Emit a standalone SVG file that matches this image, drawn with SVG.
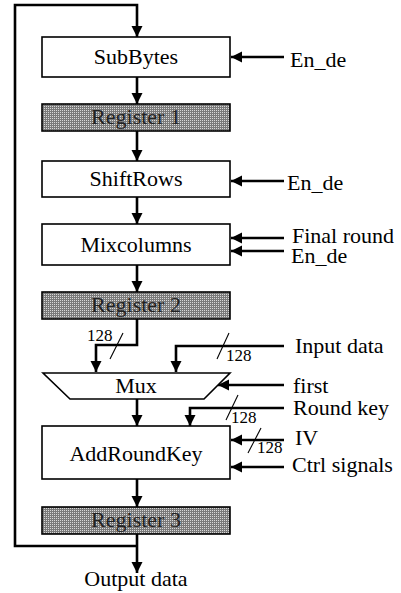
<svg xmlns="http://www.w3.org/2000/svg" width="401" height="593" viewBox="0 0 401 593">
<defs>
<style>
.box{fill:#fff;stroke:#000;stroke-width:1.6}
.reg{fill:url(#dots);stroke:#000;stroke-width:1.6}
.t{font-family:'Liberation Serif','Times New Roman',Tinos,'DejaVu Serif',serif;font-size:22px;fill:#000}
.c{text-anchor:middle}
.rt{fill:#222}
.n{font-family:'Liberation Serif','Times New Roman',Tinos,'DejaVu Serif',serif;font-size:17px;fill:#000}
.w{fill:none;stroke:#000;stroke-width:2.6}
.ar{marker-end:url(#ah)}
.sl{fill:none;stroke:#000;stroke-width:1.1}
</style>
<pattern id="dots" patternUnits="userSpaceOnUse" width="2" height="2">
<rect width="2" height="2" fill="#7a7a7a"/>
<rect width="1" height="1" fill="#d8d8d8"/>
</pattern>
<marker id="ah" markerUnits="userSpaceOnUse" markerWidth="12" markerHeight="12" refX="11" refY="5.5" orient="auto" viewBox="0 0 12 11">
<path d="M0,0 L11,5.5 L0,11 z" fill="#000"/>
</marker>
</defs>

<g id="connectors">
<path class="w ar" d="M137,546 H15 V5 H137 V37"/>
<path class="w ar" d="M137,77 V104"/>
<path class="w ar" d="M137,131 V161"/>
<path class="w ar" d="M137,197 V224"/>
<path class="w ar" d="M137,265 V292"/>
<path class="w ar" d="M137,319 V345 H96 V372"/>
<path class="w ar" d="M284,346 H176 V372"/>
<path class="w ar" d="M137,399 V426"/>
<path class="w ar" d="M284,408 H190 V426"/>
<path class="w ar" d="M137,479 V507"/>
<path class="w ar" d="M137,534 V573"/>
<path class="w ar" d="M284,57 H231"/>
<path class="w ar" d="M284,181 H231"/>
<path class="w ar" d="M284,238 H231"/>
<path class="w ar" d="M284,251 H231"/>
<path class="w ar" d="M284,385 H218"/>
<path class="w ar" d="M284,440 H231"/>
<path class="w ar" d="M284,467 H231"/>
<path class="sl" d="M123,333 L110,359"/>
<path class="sl" d="M229,333 L217,359"/>
<path class="sl" d="M238,395 L226,420"/>
<path class="sl" d="M261,428 L248,453"/>
<text class="n" x="87" y="341">128</text>
<text class="n" x="226" y="361">128</text>
<text class="n" x="231" y="423">128</text>
<text class="n" x="257" y="453">128</text>
</g>

<g id="subbytes">
<rect class="box" x="42" y="37" width="188" height="40"/>
<text class="t c" x="136" y="64">SubBytes</text>
</g>
<g id="register1">
<rect class="reg" x="42" y="104" width="188" height="27"/>
<text class="t c rt" x="136" y="124">Register 1</text>
</g>
<g id="shiftrows">
<rect class="box" x="42" y="161" width="188" height="36"/>
<text class="t c" x="136" y="186">ShiftRows</text>
</g>
<g id="mixcolumns">
<rect class="box" x="42" y="224" width="188" height="41"/>
<text class="t c" x="136" y="252">Mixcolumns</text>
</g>
<g id="register2">
<rect class="reg" x="42" y="292" width="188" height="27"/>
<text class="t c rt" x="136" y="312">Register 2</text>
</g>
<g id="mux">
<path class="box" d="M43,373 H230 L204,399 H70 Z"/>
<text class="t c" x="136" y="393">Mux</text>
</g>
<g id="addroundkey">
<rect class="box" x="42" y="426" width="188" height="53"/>
<text class="t c" x="136" y="461">AddRoundKey</text>
</g>
<g id="register3">
<rect class="reg" x="42" y="507" width="188" height="27"/>
<text class="t c rt" x="136" y="527">Register 3</text>
</g>

<g id="labels">
<text class="t" x="290" y="67">En_de</text>
<text class="t" x="287" y="190">En_de</text>
<text class="t" x="292" y="243">Final round</text>
<text class="t" x="291" y="263">En_de</text>
<text class="t" x="295" y="353">Input data</text>
<text class="t" x="293" y="393">first</text>
<text class="t" x="293" y="415">Round key</text>
<text class="t" x="295" y="445">IV</text>
<text class="t" x="292" y="472">Ctrl signals</text>
<text class="t c" x="136" y="586">Output data</text>
</g>
</svg>
